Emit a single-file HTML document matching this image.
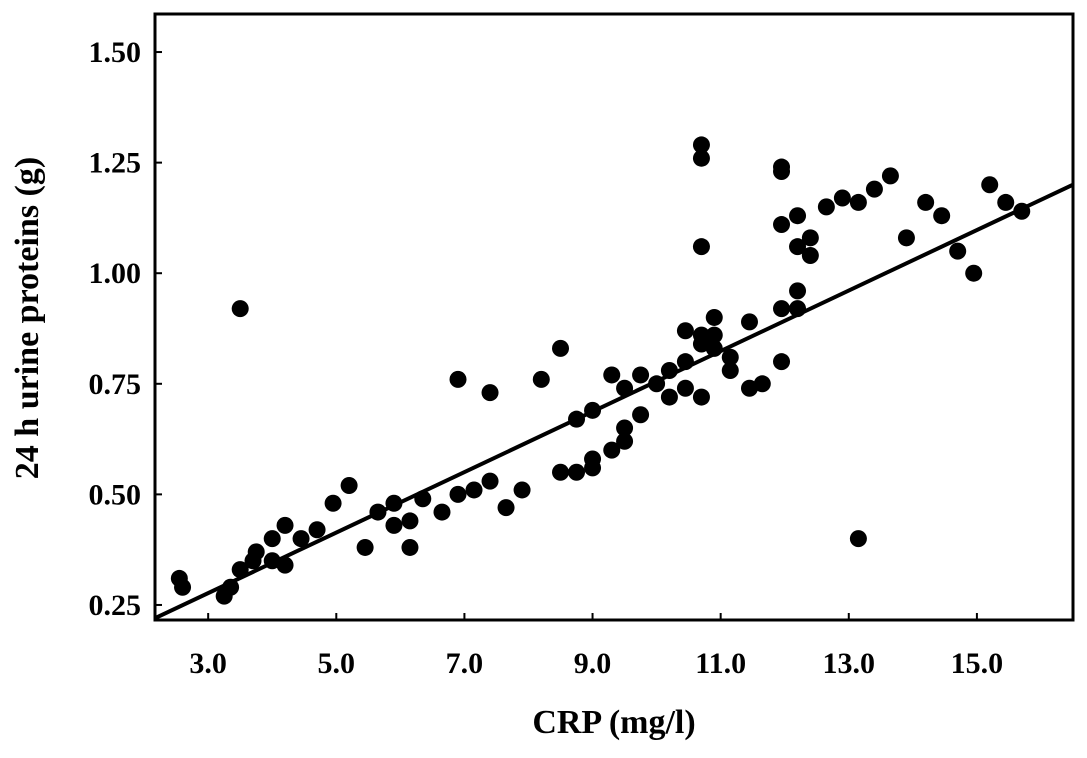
<!DOCTYPE html>
<html><head><meta charset="utf-8"><style>
html,body{margin:0;padding:0;background:#fff;}
svg{display:block;font-family:"Liberation Serif",serif;font-weight:bold;}
</style></head><body>
<svg id="chart" width="1087" height="758" viewBox="0 0 1087 758">
<rect x="155" y="14" width="918" height="606" fill="none" stroke="#000" stroke-width="3"/>
<g id="marks"></g>
<g id="axes"></g>
<text x="614" y="733" font-size="34" text-anchor="middle">CRP (mg/l)</text>
<text transform="translate(38,318) rotate(-90)" font-size="34" text-anchor="middle">24 h urine proteins (g)</text>
</svg>
<script>
const xs=[2.55,2.6,3.25,3.35,3.5,3.5,3.7,3.75,4.0,4.0,4.2,4.2,4.45,4.7,4.95,5.2,5.45,5.65,5.9,5.9,6.15,6.15,6.35,6.65,6.9,6.9,7.15,7.4,7.4,7.65,7.9,8.2,8.5,8.5,8.75,8.75,9.0,9.0,9.0,9.3,9.3,9.5,9.5,9.5,9.75,9.75,10.0,10.2,10.2,10.45,10.45,10.45,10.7,10.7,10.7,10.7,10.7,10.7,10.9,10.9,10.9,11.15,11.15,11.45,11.45,11.65,11.95,11.95,11.95,11.95,11.95,12.2,12.2,12.2,12.2,12.4,12.4,12.65,12.9,13.15,13.15,13.4,13.65,13.9,14.2,14.45,14.7,14.95,15.2,15.45,15.7];
const ys=[0.31,0.29,0.27,0.29,0.33,0.92,0.35,0.37,0.40,0.35,0.43,0.34,0.40,0.42,0.48,0.52,0.38,0.46,0.48,0.43,0.44,0.38,0.49,0.46,0.76,0.50,0.51,0.73,0.53,0.47,0.51,0.76,0.83,0.55,0.55,0.67,0.69,0.58,0.56,0.77,0.60,0.74,0.65,0.62,0.77,0.68,0.75,0.78,0.72,0.87,0.80,0.74,1.29,1.26,1.06,0.86,0.84,0.72,0.90,0.86,0.83,0.81,0.78,0.89,0.74,0.75,1.23,1.24,1.11,0.92,0.80,1.13,1.06,0.96,0.92,1.08,1.04,1.15,1.17,1.16,0.40,1.19,1.22,1.08,1.16,1.13,1.05,1.00,1.20,1.16,1.14];
const xTicks=[3,5,7,9,11,13,15];
const xTickLabels=["3.0","5.0","7.0","9.0","11.0","13.0","15.0"];
const yTicks=[0.25,0.5,0.75,1.0,1.25,1.5];
const yTickLabels=["0.25","0.50","0.75","1.00","1.25","1.50"];
const fitSlope=0.0684, fitIntercept=0.0716;
const xMin=2.17,xMax=16.5,yMin=0.216,yMax=1.586;
const L=155,R=1073,T=14,B=620;
const X=v=>L+(v-xMin)/(xMax-xMin)*(R-L);
const Y=v=>B-(v-yMin)/(yMax-yMin)*(B-T);
const NS="http://www.w3.org/2000/svg";
const marks=document.getElementById('marks'),axes=document.getElementById('axes');
function mk(t,a,p){const e=document.createElementNS(NS,t);for(const k in a)e.setAttribute(k,a[k]);p.appendChild(e);return e;}
const ln=mk('line',{x1:X(xMin),y1:Y(fitIntercept+fitSlope*xMin),x2:X(xMax),y2:Y(fitIntercept+fitSlope*xMax),stroke:'#000','stroke-width':4},marks);


xs.forEach((x,i)=>{const c=mk('circle',{cx:X(x),cy:Y(ys[i]),r:8.5,fill:'#000'},marks);

});
xTicks.forEach((v,i)=>{const t=mk('line',{x1:X(v),y1:B,x2:X(v),y2:B-7,stroke:'#000','stroke-width':2},axes);


const l=mk('text',{x:X(v),y:B+53,'font-size':30,'text-anchor':'middle'},axes);l.textContent=xTickLabels[i];

});
yTicks.forEach((v,i)=>{const t=mk('line',{x1:L,y1:Y(v),x2:L+7,y2:Y(v),stroke:'#000','stroke-width':2},axes);


const l=mk('text',{x:L-14,y:Y(v)+10,'font-size':30,'text-anchor':'end'},axes);l.textContent=yTickLabels[i];

});
</script>
</body></html>
